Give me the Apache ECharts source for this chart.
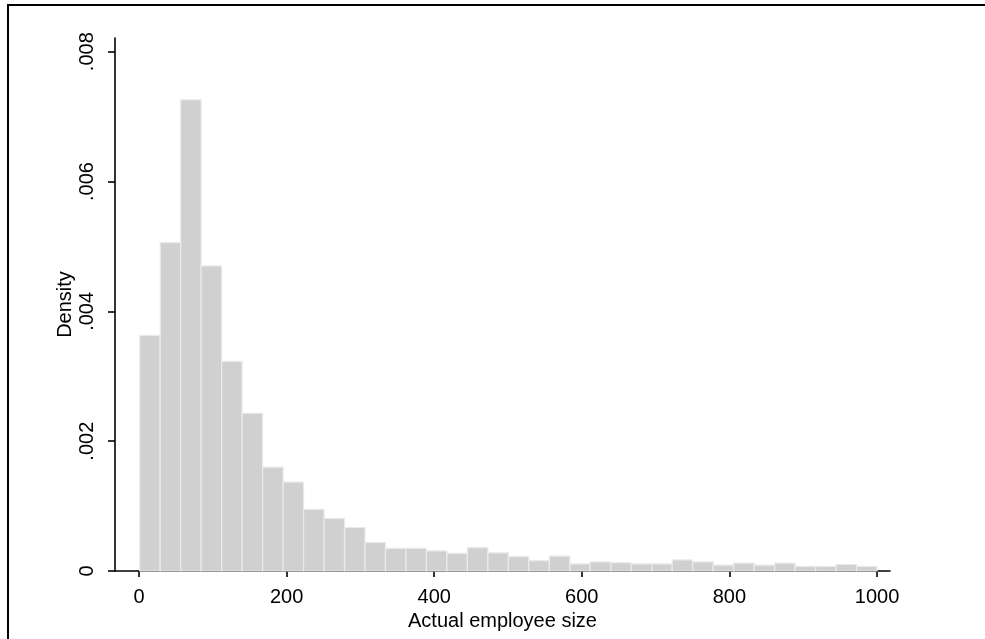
<!DOCTYPE html>
<html>
<head>
<meta charset="utf-8">
<script src="https://cdn.jsdelivr.net/npm/echarts@6/dist/echarts.min.js"></script>
<style>
html,body{margin:0;padding:0;background:#fff;}
#chart{width:985px;height:639px;}
</style>
</head>
<body>
<div id="chart"></div>
<script>
// Histogram bins: start and width of each bin (employees)
const binStart = 1;
const binWidth = 27.75;
// Density of each of the 36 bins
const density = [
  0.00363, 0.00506, 0.00726, 0.00470, 0.00323, 0.00243, 0.00160, 0.00137,
  0.00095, 0.00081, 0.00067, 0.00044, 0.00035, 0.00035, 0.00031, 0.00027,
  0.00036, 0.00028, 0.00022, 0.00016, 0.00023, 0.00011, 0.00014, 0.00013,
  0.00011, 0.00011, 0.00017, 0.00014, 0.00009, 0.00012, 0.00009, 0.00012,
  0.00007, 0.00007, 0.00010, 0.00007
];
const xTicks = [0, 200, 400, 600, 800, 1000];
const xTickLabels = ['0', '200', '400', '600', '800', '1000'];
const yTicks = [0, 0.002, 0.004, 0.006, 0.008];
const yTickLabels = ['0', '.002', '.004', '.006', '.008'];
const xTitle = 'Actual employee size';
const yTitle = 'Density';

const histData = density.map((d, i) => [binStart + i * binWidth, binStart + (i + 1) * binWidth, d]);

function labelFor(ticks, labels) {
  return function (v) {
    const idx = ticks.findIndex(t => Math.abs(t - v) < 1e-9);
    return idx >= 0 ? labels[idx] : '';
  };
}

const chart = echarts.init(document.getElementById('chart'), null, {renderer: 'canvas'});
const FONT = '"Liberation Sans", Arial, sans-serif';
chart.setOption({
  animation: false,
  backgroundColor: '#ffffff',
  graphic: [{
    type: 'rect',
    shape: {x: 8, y: 5, width: 1200, height: 900},
    style: {fill: 'none', stroke: '#000', lineWidth: 2},
    silent: true
  }],
  grid: {left: 115, top: 38, right: 95, bottom: 68},
  xAxis: {
    type: 'value',
    min: -32.5,
    max: 1017.6,
    name: xTitle,
    nameLocation: 'middle',
    nameGap: 33,
    nameTextStyle: {color: '#000', fontSize: 20, fontFamily: FONT},
    axisLine: {show: true, onZero: false, lineStyle: {color: '#000', width: 1.6}},
    axisTick: {show: true, customValues: xTicks, length: 6, lineStyle: {color: '#000', width: 1.6}},
    axisLabel: {customValues: xTicks, color: '#000', fontSize: 20, fontFamily: FONT, margin: 16,
      formatter: labelFor(xTicks, xTickLabels)},
    splitLine: {show: false}
  },
  yAxis: {
    type: 'value',
    min: 0,
    max: 0.008211,
    name: yTitle,
    nameLocation: 'middle',
    nameRotate: 90,
    nameGap: 40,
    nameMoveOverlap: false,
    nameTextStyle: {color: '#000', fontSize: 20, fontFamily: FONT},
    axisLine: {show: true, onZero: false, lineStyle: {color: '#000', width: 1.6}},
    axisTick: {show: true, customValues: yTicks, length: 7, lineStyle: {color: '#000', width: 1.6}},
    axisLabel: {
      customValues: yTicks,
      rotate: 90,
      color: '#000', fontSize: 20, fontFamily: FONT, margin: 18,
      formatter: labelFor(yTicks, yTickLabels)
    },
    splitLine: {show: false}
  },
  series: [{
    type: 'custom',
    data: histData,
    encode: {x: [0, 1], y: 2},
    renderItem: function (params, api) {
      const x0 = api.value(0), x1 = api.value(1), y = api.value(2);
      const pTop = api.coord([x0, y]);
      const pBot = api.coord([x1, 0]);
      return {
        type: 'rect',
        shape: {x: pTop[0], y: pTop[1], width: pBot[0] - pTop[0], height: pBot[1] - pTop[1]},
        style: {fill: '#d0d0d0', stroke: '#eaeaea', lineWidth: 1.2}
      };
    }
  }]
});
</script>
</body>
</html>
